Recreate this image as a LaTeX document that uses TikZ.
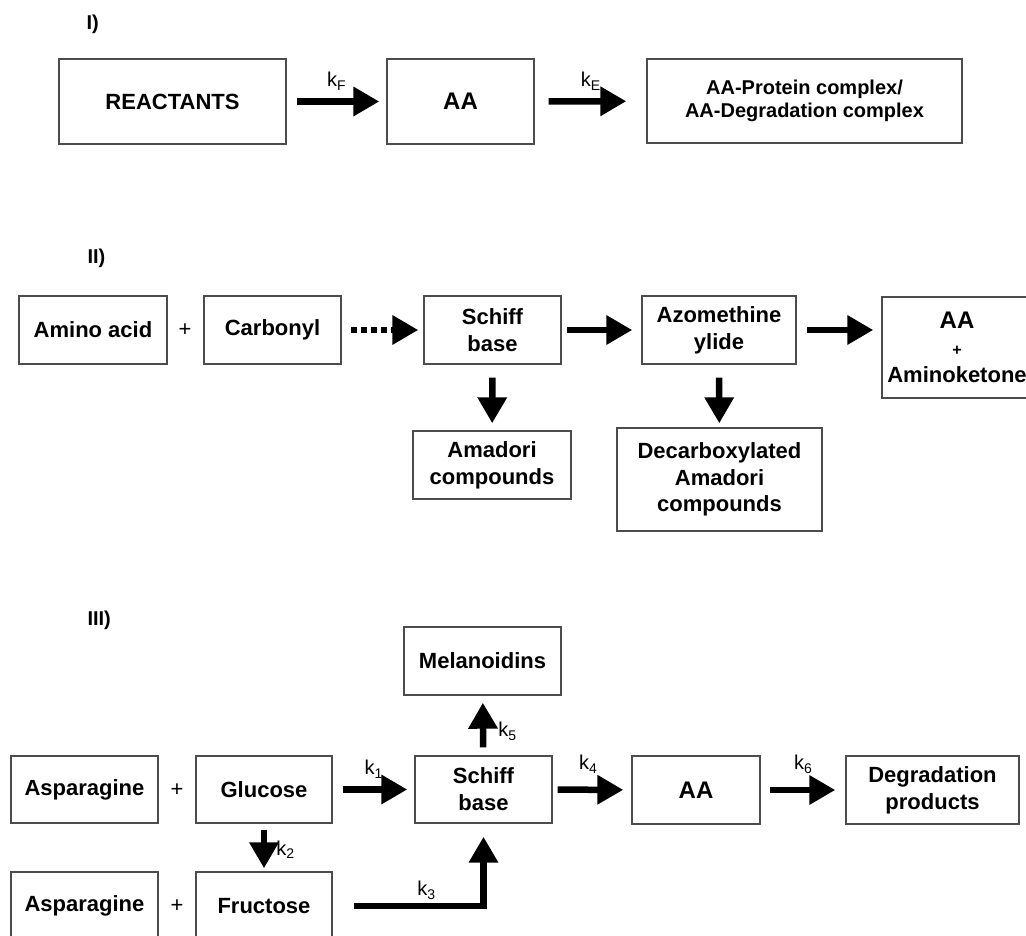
\documentclass[tikz,border=0pt]{standalone}
\usepackage{fontspec}
\setmainfont{Liberation Sans}
\usetikzlibrary{arrows.meta}
\newcommand{\kk}[1]{k\raisebox{-.35ex}{\fontsize{14}{14}\selectfont #1}}

\begin{document}
\begin{tikzpicture}[x=1pt,y=-1pt,
	box/.style={draw=black!70,line width=1.4pt,align=center,inner sep=0pt,
		font=\bfseries\fontsize{22}{27}\selectfont},
	flow/.style={line width=6.5pt,-{Triangle[length=26pt,width=28pt]},
		shorten <=10pt,shorten >=7pt},
	dotflow/.style={flow,dash pattern=on 6pt off 4pt},
	rate/.style={font=\fontsize{20}{20}\selectfont,inner sep=1pt},
	plus/.style={font=\fontsize{22}{22}\selectfont},
	part/.style={font=\bfseries\fontsize{20}{20}\selectfont,anchor=west}]
			\useasboundingbox (0,0) rectangle (1026,936);
			\clip (0,0) rectangle (1026,936);
			% I)
			\node[part] (L1) at (83,24) {I)};
			\node[box,minimum width=227pt,minimum height=85pt] (RE) at (172.5,101.5) {REACTANTS};
			\node[box,minimum width=147pt,minimum height=85pt,font=\bfseries\fontsize{24}{27}\selectfont] (AF) at (460.5,101.5) {AA};
			\node[box,minimum width=315pt,minimum height=84pt,font=\bfseries\fontsize{20}{22.5}\selectfont] (CX) at (804.5,101) {AA-Protein complex/\\AA-Degradation complex};
			\path
			(RE) edge[flow] node[rate,above=7pt] {\kk{F}} (AF)
			(AF) edge[flow,shorten <=14pt,shorten >=20pt] node[rate,above=7pt] {\kk{E}} (CX);
			% II)
			\node[part] (L2) at (84,258) {II)};
			\node[box,minimum width=148pt,minimum height=68pt] (AM) at (93,330) {Amino acid};
			\node[plus] (P1) at (185,330) {+};
			\node[box,minimum width=137pt,minimum height=68pt] (CB) at (272.5,330) {Carbonyl};
			\node[box,minimum width=137pt,minimum height=68pt] (SB) at (492.5,330) {Schiff\\base};
			\node[box,minimum width=154pt,minimum height=68pt] (AZ) at (719,330) {Azomethine\\ylide};
			\node[box,minimum width=150pt,minimum height=101pt] (AK) at (957,347.5) {{\fontsize{24}{27}\selectfont AA}\\{\fontsize{16}{27}\selectfont +}\\Aminoketone};
			\node[box,minimum width=158pt,minimum height=68pt] (AD) at (492,465) {Amadori\\compounds};
			\node[box,minimum width=205pt,minimum height=103pt,font=\bfseries\fontsize{22}{26.5}\selectfont] (DC) at (719.5,479.5) {Decarboxylated\\Amadori\\compounds};
			\path
			(CB) edge[dotflow,shorten <=9pt,shorten >=5pt] (SB)
			(SB) edge[flow,shorten <=5pt,shorten >=9pt] (AZ)
			(AZ) edge[flow,shorten >=8pt] (AZ -| AK.west)
			(SB) edge[flow,shorten <=13pt,shorten >=7pt] (AD)
			(AZ) edge[flow,shorten <=13pt,shorten >=4pt] (DC);
			% III)
			\node[part] (L3) at (84,620) {III)};
			\node[box,minimum width=157pt,minimum height=68pt] (ME) at (482.5,661) {Melanoidins};
			\node[box,minimum width=147pt,minimum height=67pt] (AS) at (84.5,789.5) {Asparagine};
			\node[plus] (P2) at (177,790) {+};
			\node[box,minimum width=136pt,minimum height=67pt] (GL) at (264,789.5) {Glucose};
			\node[box,minimum width=137pt,minimum height=67pt] (SC) at (483.5,789.5) {Schiff\\base};
			\node[box,minimum width=128pt,minimum height=68pt,font=\bfseries\fontsize{24}{27}\selectfont] (AT) at (696,790) {AA};
			\node[box,minimum width=173pt,minimum height=68pt] (DP) at (932.5,790) {Degradation\\products};
			\node[box,minimum width=147pt,minimum height=68pt] (AP) at (84.5,906) {Asparagine};
			\node[plus] (P3) at (177,906) {+};
			\node[box,minimum width=136pt,minimum height=68pt] (FR) at (264,906) {Fructose};
			\path
			(GL) edge[flow] node[rate,above=7pt] {\kk{1}} (SC)
			(SC) edge[flow,shorten <=5pt,shorten >=8pt] node[rate,above=12pt,pos=.45] {\kk{4}} (AT)
			(AT) edge[flow,shorten <=9pt,shorten >=10pt] node[rate,above=12pt] {\kk{6}} (DP)
			(GL) edge[flow,shorten <=6pt,shorten >=3pt] node[rate,right=8pt,pos=.55] {\kk{2}} (FR)
			(SC) edge[flow,shorten <=8pt,shorten >=7pt] node[rate,right=11pt,pos=.4] {\kk{5}} (ME);
			\draw[flow,shorten <=21pt,shorten >=13pt] (FR) -| node[rate,above=2pt,pos=.31] {\kk{3}} (SC);
\end{tikzpicture}
\end{document}
